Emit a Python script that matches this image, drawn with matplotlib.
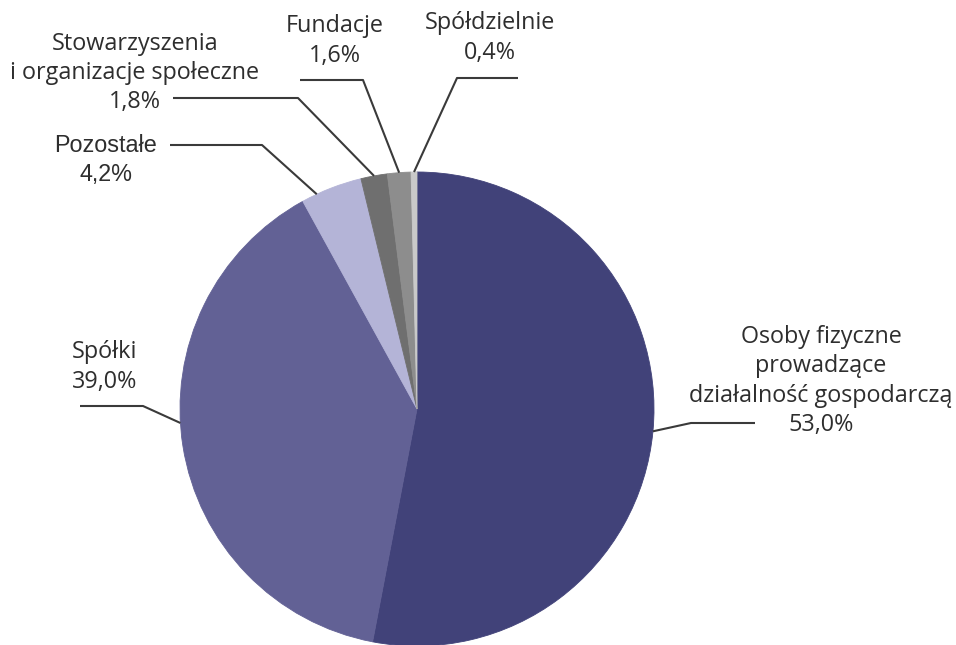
import numpy as np
from matplotlib import pyplot as plt

# data
categories = [
    "Osoby fizyczne\nprowadzące\ndziałalność gospodarczą",
    "Spółki",
    "Pozostałe",
    "Stowarzyszenia\ni organizacje społeczne",
    "Fundacje",
    "Spółdzielnie",
]
shares = [53.0, 39.0, 4.2, 1.8, 1.6, 0.4]
colors = ["#414279", "#626195", "#b4b4d7", "#6f6f6f", "#8d8d8d", "#c9c9c9"]

# layout (pixels, y measured from the top)
W, H = 956, 645
CX, CY, R = 417, 409, 237
# text centre, leader elbow points, where on the wedge the line ends
label_pos = [(821, 381), (105, 367), (106, 160), (135, 73), (335, 41), (490, 38)]
leader_pts = [
    [(755, 423), (691, 423)],
    [(80, 406), (143, 406)],
    [(170, 145), (262, 145)],
    [(173, 98), (298, 98)],
    [(300, 80), (363, 80)],
    [(518, 78), (457, 78)],
]
anchor_frac = [0.5, 0.46, 0.75, 0.5, 0.5, 0.5]
fonts = ["Open Sans", "Open Sans", "Liberation Sans", "Open Sans", "Open Sans", "Open Sans"]

TEXT = "#2e2e2e"
LINE = "#3a3a3a"


def py(y):
    return H - y


fig = plt.figure(figsize=(W / 100, H / 100), dpi=100)
ax = fig.add_axes([0, 0, 1, 1])

wedges, _ = ax.pie(shares, colors=colors, startangle=90, counterclock=False,
                   radius=R, center=(CX, py(CY)),
                   wedgeprops=dict(linewidth=0.6))
for w in wedges:
    w.set_edgecolor(w.get_facecolor())

ax.set_xlim(0, W)
ax.set_ylim(0, H)
ax.set_aspect("equal")
ax.axis("off")

for w, name, val, pos, pts, f, fam in zip(wedges, categories, shares, label_pos,
                                          leader_pts, anchor_frac, fonts):
    # point on the rim of the wedge
    a = np.deg2rad(w.theta1 + f * (w.theta2 - w.theta1))
    ex = w.center[0] + w.r * np.cos(a)
    ey = w.center[1] + w.r * np.sin(a)
    xs = [pts[0][0], pts[1][0], ex]
    ys = [py(pts[0][1]), py(pts[1][1]), ey]
    ax.plot(xs, ys, color=LINE, lw=1.5, solid_capstyle="butt")

    label = name + "\n" + f"{val:.1f}%".replace(".", ",")
    ax.text(pos[0], py(pos[1]), label, ha="center", va="center",
            fontsize=16.8, family=fam, color=TEXT, linespacing=1.3)

fig.savefig("out.png", dpi=100)
plt.close(fig)
